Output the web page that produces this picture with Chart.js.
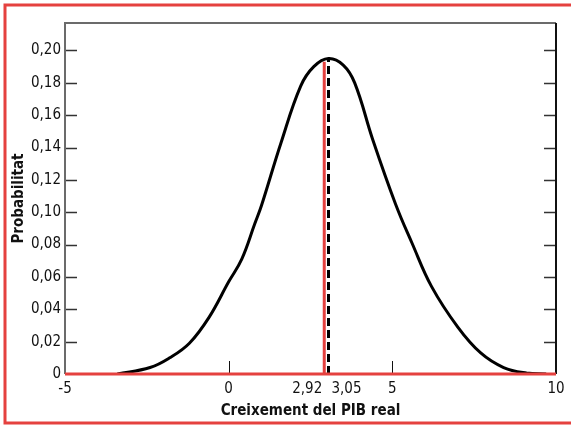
<!DOCTYPE html>
<html>
<head>
<meta charset="utf-8">
<script src="https://cdn.jsdelivr.net/npm/chart.js@4"></script>
<style>
  html, body { margin: 0; padding: 0; background: #fff; overflow: hidden; }
  #wrap { position: relative; width: 571px; height: 425px; }
</style>
</head>
<body>
<div id="wrap"><canvas id="chart"></canvas></div>
<script>
// curve
const curveX = [-3.4, -2.4, -1.8, -1.2, -0.6, 0, 0.4, 0.8, 1.0, 1.6, 2.2, 2.6, 3.05, 3.5, 3.85, 4.4, 5.1, 5.6, 6.2, 7.0, 7.7, 8.4, 9.1, 9.7];
const curveY = [0, 0.004, 0.010, 0.019, 0.035, 0.057, 0.071, 0.093, 0.104, 0.143, 0.178, 0.190, 0.195, 0.191, 0.180, 0.145, 0.105, 0.081, 0.054, 0.029, 0.013, 0.004, 0.0006, 0];

const redLineX = 2.92;
const redLineTop = 0.193;
const meanLineX = 3.05;
const meanLineTop = 0.195;

const xTicks = [-5, 0, 5, 10];
const xMarkers = ["2,92", "3,05"];

const RED = "#e5413f";
const FONT = "'DejaVu Sans Condensed', 'DejaVu Sans', sans-serif";

const fmt = v => v === 0 ? "0" : v.toFixed(2).replace(".", ",");

const frame = {
    id: "frame",
    afterDraw(chart) {
        const ctx = chart.ctx;
        const a = chart.chartArea;
        const x = chart.scales.x;
        const y = chart.scales.y;
        ctx.save();

        // outer red border
        ctx.strokeStyle = RED;
        ctx.lineWidth = 3;
        ctx.strokeRect(5, 5, 700, 418);

        // inner ticks
        ctx.lineWidth = 1.5;
        y.ticks.forEach(t => {
            const py = Math.round(y.getPixelForValue(t.value)) + 0.5;
            if (t.value === 0) return;
            ctx.strokeStyle = "#333";
            ctx.beginPath();
            ctx.moveTo(a.left, py); ctx.lineTo(a.left + 12, py);
            ctx.moveTo(a.right - 12, py); ctx.lineTo(a.right, py);
            ctx.stroke();
        });
        [0, 5].forEach(v => {
            const px = Math.round(x.getPixelForValue(v)) + 0.5;
            ctx.strokeStyle = "#111";
            ctx.lineWidth = 1;
            ctx.beginPath();
            ctx.moveTo(px, a.bottom); ctx.lineTo(px, a.bottom - 13);
            ctx.stroke();
        });

        // axes box
        ctx.lineWidth = 2;
        ctx.strokeStyle = "#6b6b6b";
        ctx.beginPath();
        ctx.moveTo(a.left, a.bottom); ctx.lineTo(a.left, a.top); ctx.lineTo(a.right, a.top);
        ctx.stroke();
        ctx.strokeStyle = "#111";
        ctx.beginPath();
        ctx.moveTo(a.right, a.top); ctx.lineTo(a.right, a.bottom);
        ctx.stroke();
        ctx.strokeStyle = RED;
        ctx.lineWidth = 3;
        ctx.beginPath();
        ctx.moveTo(a.left, a.bottom); ctx.lineTo(a.right, a.bottom);
        ctx.stroke();

        // marker labels under the axis
        ctx.fillStyle = "#111";
        ctx.font = "15px " + FONT;
        ctx.textBaseline = "middle";
        ctx.textAlign = "right";
        ctx.fillText(xMarkers[0], x.getPixelForValue(redLineX) - 2, 389);
        ctx.textAlign = "left";
        ctx.fillText(xMarkers[1], x.getPixelForValue(meanLineX) + 3, 389);
        ctx.restore();
    }
};

new Chart(document.getElementById("chart"), {
    type: "line",
    data: {
        datasets: [
            {
                data: curveX.map((v, i) => ({ x: v, y: curveY[i] })),
                borderColor: "#000",
                borderWidth: 3,
                pointRadius: 0,
                tension: 0.4
            },
            {
                data: [{ x: redLineX, y: 0 }, { x: redLineX, y: redLineTop }],
                borderColor: RED,
                borderWidth: 3,
                pointRadius: 0
            },
            {
                data: [{ x: meanLineX, y: 0 }, { x: meanLineX, y: meanLineTop }],
                borderColor: "#000",
                borderWidth: 3,
                borderDash: [8, 4],
                pointRadius: 0
            }
        ]
    },
    options: {
        responsive: true,
        maintainAspectRatio: false,
        animation: false,
        layout: { padding: { left: 5, top: 23, right: 15, bottom: 5 } },
        plugins: { legend: { display: false }, tooltip: { enabled: false } },
        scales: {
            x: {
                type: "linear",
                min: -5,
                max: 10,
                afterBuildTicks: s => { s.ticks = xTicks.map(v => ({ value: v })); },
                afterFit: s => { s.height = 46; },
                grid: { display: false, drawTicks: false },
                border: { display: false },
                ticks: {
                    autoSkip: false,
                    maxRotation: 0,
                    padding: 6,
                    color: "#111",
                    font: { family: FONT, size: 15 },
                    callback: v => String(v)
                },
                title: {
                    display: true,
                    text: "Creixement del PIB real",
                    color: "#111",
                    padding: { top: 2, bottom: 0 },
                    font: { family: FONT, size: 15, weight: "bold" }
                }
            },
            y: {
                min: 0,
                max: 0.217,
                afterFit: s => { s.width = 60; },
                grid: { display: false, drawTicks: false },
                border: { display: false },
                ticks: {
                    stepSize: 0.02,
                    includeBounds: false,
                    padding: 4,
                    color: "#111",
                    font: { family: FONT, size: 15 },
                    callback: v => fmt(v)
                },
                title: {
                    display: true,
                    text: "Probabilitat",
                    color: "#111",
                    padding: { top: 5, bottom: 0 },
                    font: { family: FONT, size: 15, weight: "bold" }
                }
            }
        }
    },
    plugins: [frame]
});
</script>
</body>
</html>
